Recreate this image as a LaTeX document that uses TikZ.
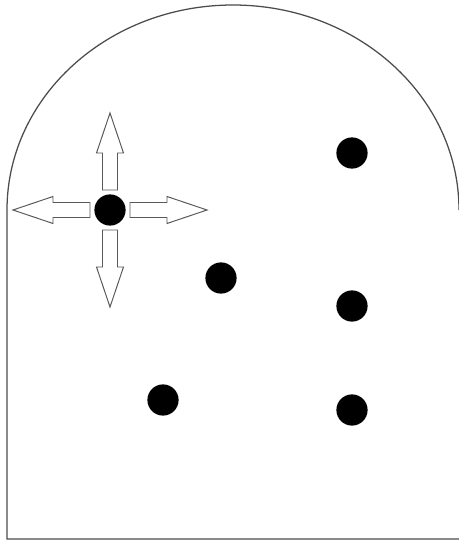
\documentclass[tikz,border=0pt]{standalone}
\usepackage{tikz}

\tikzset{
  dot/.style={circle, fill=black, inner sep=0pt, minimum size=0.78cm},
  outline/.style={draw=black!70, line width=0.9pt},
  blockarrow/.style={draw=black!65, fill=white, line width=0.7pt, line join=miter}
}

\begin{document}
\begin{tikzpicture}[x=0.025cm, y=0.025cm]
                \useasboundingbox (0,0) rectangle (459,542);
                % Outline of the arched room
                \draw[outline] (459,3) -- (7,3) -- (7,332) arc[start angle=180, end angle=0, x radius=226*0.025cm, y radius=205*0.025cm];
                % Dots
                \node[dot] (d1) at (110,332) {};
                \node[dot] (d2) at (352,389) {};
                \node[dot] (d3) at (221,264) {};
                \node[dot] (d4) at (352,236) {};
                \node[dot] (d5) at (163,142) {};
                \node[dot] (d6) at (352,132) {};
                % Four block arrows around the first dot
                \foreach \ang in {0,90,180,270}
                  \draw[blockarrow, shift={(d1.center)}, rotate=\ang]
                    (20,7.5) -- (57,7.5) -- (57,13.5) -- (97,0) -- (57,-13.5) -- (57,-7.5) -- (20,-7.5) -- cycle;
\end{tikzpicture}
\end{document}
